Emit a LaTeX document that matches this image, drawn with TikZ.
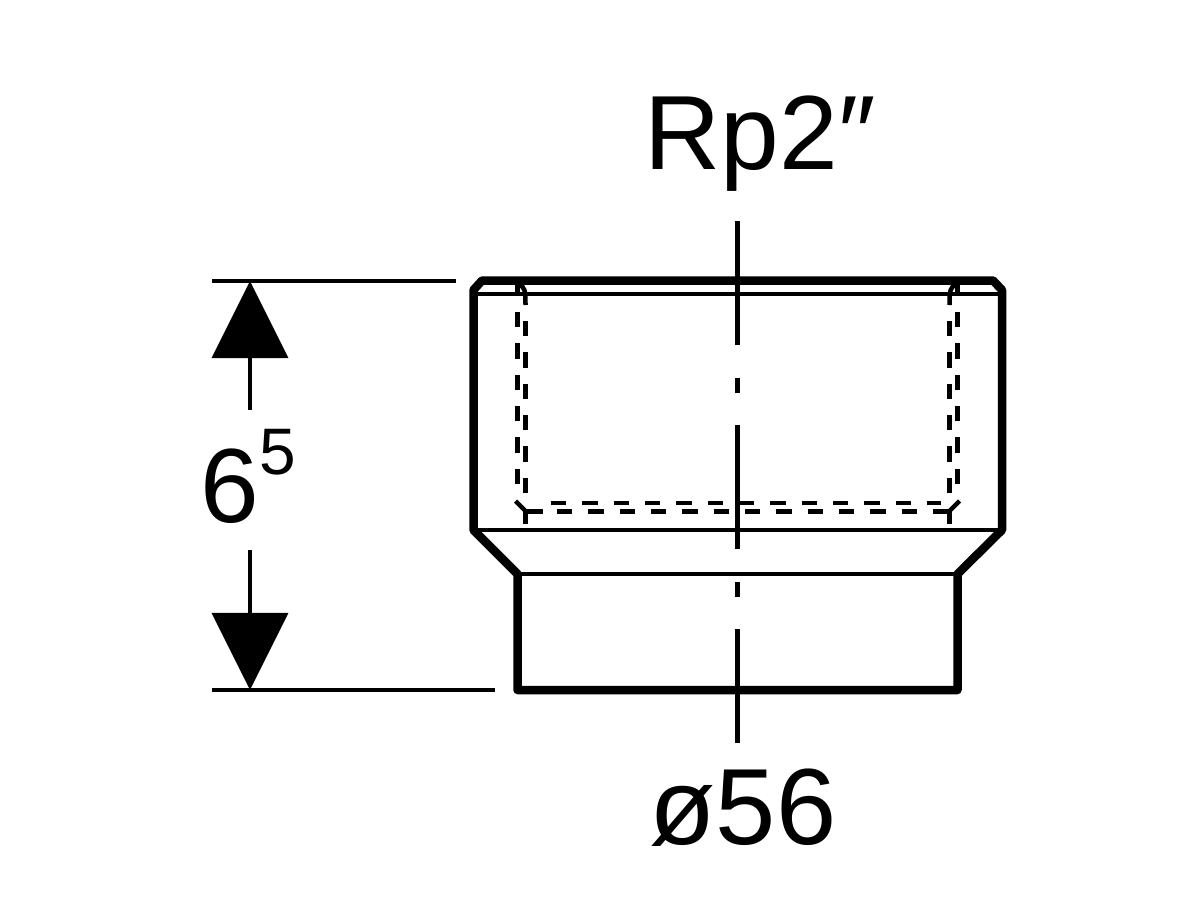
\documentclass[tikz,border=0pt]{standalone}
\usepackage{fontspec}
\setmainfont{Liberation Sans}
\usetikzlibrary{arrows.meta}
\tikzset{
  bigtext/.style = {inner sep = 0, font = \fontsize{30}{30}\selectfont},
  outline/.style = {black, line width = 0.085cm, line join = round},
  thinline/.style = {black, line width = 0.032cm},
  hidden/.style = {black, line width = 0.045cm, dash pattern = on 0.153cm off 0.16cm},
  hiddenend/.style = {black, line width = 0.045cm},
  axisline/.style = {black, line width = 0.042cm, dash pattern = on 1.24cm off 0.33cm on 0.15cm off 0.32cm},
  dimarrow/.style = {black, line width = 0.035cm, -{Triangle[length = 0.77cm, width = 0.76cm]}}
}
\begin{document}
\begin{tikzpicture}[x = 0.01cm, y = -0.01cm]
\useasboundingbox (0,0) rectangle (1200,900);
% labels
\node[bigtext] (rp) at (760,144) {Rp2\char"2033};
\node[bigtext, font = \fontsize{30.8}{30.8}\selectfont] (dia) at (743,808) {ø56};
\node[bigtext, anchor = base west] (hgt) at (200,522) {6\raisebox{13.6pt}{\fontsize{18.7}{18.7}\selectfont 5}};
% thin edges
\draw[thinline] (474,294) -- (1002,294);
\draw[thinline] (474,530) -- (1002,530);
\draw[thinline] (517,574) -- (958,574);
% hidden thread, left and right
\foreach \s in {1,-1} {
\begin{scope}[shift = {(737.5,0)}, xscale = \s]
\draw[hiddenend] (-220,296) -- (-220,285);
\draw[hiddenend] (-218,285) .. controls (-213,287) and (-212,290) .. (-212,305);
\draw[hidden] (-212,321) -- (-212,524);
\draw[hidden] (-220,312) -- (-220,484);
\draw[hiddenend] (-222,501) -- (-210,513);
\end{scope}
}
\draw[hiddenend] (527,511.5) -- (543,511.5);
\draw[hidden] (551,503) -- (941,503);
\draw[hidden] (557,511.5) -- (950,511.5);
% body
\draw[outline] (482,280.5) -- (993,280.5) -- (1002,290) -- (1002,530) -- (957.5,574) -- (957.5,690)
  -- (517.5,690) -- (517.5,574) -- (473.5,530) -- (473.5,290) -- cycle;
% centre line
\coordinate (axistop) at (737.5,221);
\coordinate (axisbot) at (737.5,743);
\draw[axisline] (axistop) -- (axisbot);
% height dimension
\coordinate (exttopl) at (212,281);
\coordinate (exttopr) at (456,281);
\coordinate (extbotl) at (212,690);
\coordinate (extbotr) at (495,690);
\draw[thinline] (exttopl) -- (exttopr);
\draw[thinline] (extbotl) -- (extbotr);
\coordinate (gaptop) at (250,410);
\coordinate (gapbot) at (250,550);
\coordinate (tiptop) at (250,281);
\coordinate (tipbot) at (250,690);
\draw[dimarrow] (gaptop) -- (tiptop);
\draw[dimarrow] (gapbot) -- (tipbot);
\end{tikzpicture}
\end{document}
